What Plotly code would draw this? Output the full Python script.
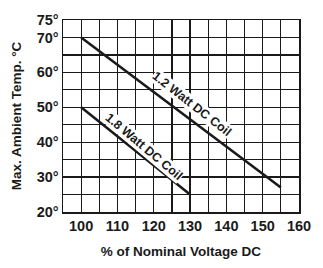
import plotly.graph_objects as go

x_12 = [100, 155]
y_12 = [70, 27]
x_18 = [100, 130]
y_18 = [50, 25]
y_ticks = [20, 30, 40, 50, 60, 70, 75]
y_ticktext = ["20°", "30°", "40°", "50°", "60°", "70°", "75°"]
x_ticks = [100, 110, 120, 130, 140, 150, 160]
x_ticktext = ["100", "110", "120", "130", "140", "150", "160"]

FONT = "Liberation Sans, Arial, sans-serif"
INK = "#1a1a1a"

fig = go.Figure()
fig.add_trace(go.Scatter(x=x_12, y=y_12, mode="lines", line=dict(color=INK, width=2.6), showlegend=False))
fig.add_trace(go.Scatter(x=x_18, y=y_18, mode="lines", line=dict(color=INK, width=2.6), showlegend=False))

fig.add_annotation(x=130.5, y=51, text="<b>1.2 Watt DC Coil</b>", showarrow=False, textangle=38,
                   bgcolor="white", font=dict(family=FONT, size=12.5, color=INK), borderpad=0)
fig.add_annotation(x=117.4, y=38.7, text="<b>1.8 Watt DC Coil</b>", showarrow=False, textangle=40,
                   bgcolor="white", font=dict(family=FONT, size=12.5, color=INK), borderpad=0)

fig.update_xaxes(range=[95, 160], tickvals=x_ticks, ticktext=["<b>%s</b>" % t for t in x_ticktext],
                 showgrid=True, gridcolor=INK, gridwidth=1.2,
                 minor=dict(showgrid=True, gridcolor=INK, gridwidth=1.2, dtick=5, tick0=95),
                 showline=True, linecolor=INK, linewidth=1.5, mirror=True, zeroline=False,
                 ticks="", tickfont=dict(family=FONT, size=14.5, color=INK),
                 title=dict(text="<b>% of Nominal Voltage DC</b>", font=dict(family=FONT, size=13.5, color=INK), standoff=13))
fig.update_yaxes(range=[20, 75], tickvals=y_ticks, ticktext=["<b>%s</b>" % t for t in y_ticktext],
                 showgrid=True, gridcolor=INK, gridwidth=1.2,
                 minor=dict(showgrid=True, gridcolor=INK, gridwidth=1.2, dtick=5, tick0=20),
                 showline=True, linecolor=INK, linewidth=1.5, mirror=True, zeroline=False,
                 ticks="", tickfont=dict(family=FONT, size=14.5, color=INK),
                 title=dict(text="<b>Max. Ambient Temp. °C</b>", font=dict(family=FONT, size=13.5, color=INK), standoff=12))

fig.update_layout(width=323, height=268, margin=dict(l=63, r=16, t=13, b=49),
                  plot_bgcolor="white", paper_bgcolor="white")
fig.write_html("out.html", config={"staticPlot": True},
               post_script="document.body.style.margin='0';document.body.style.overflow='hidden';")
